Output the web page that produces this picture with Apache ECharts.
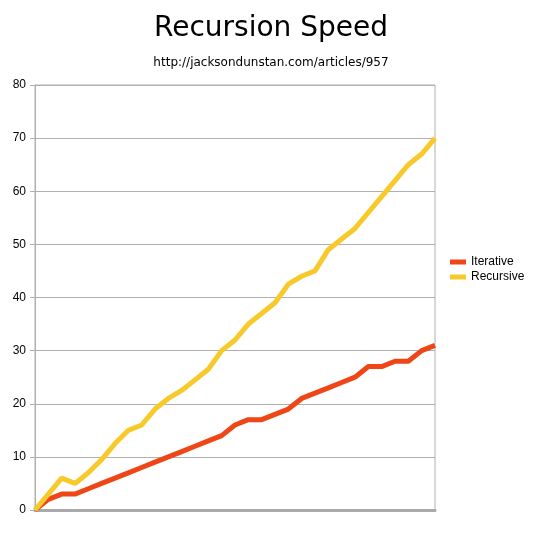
<!DOCTYPE html>
<html>
<head>
<meta charset="utf-8">
<script src="https://cdn.jsdelivr.net/npm/echarts@6/dist/echarts.min.js"></script>
<style>
  html, body { margin: 0; padding: 0; background: #fff; }
  #chart { width: 542px; height: 540px; }
</style>
</head>
<body>
<div id="chart"></div>
<script>
// Run index (x) is unlabeled in the original.
const runs = Array.from({ length: 31 }, (_, i) => String(i));
const iterative = [0, 2, 3, 3, 4, 5, 6, 7, 8, 9, 10, 11, 12, 13, 14, 16, 17, 17, 18, 19,
  21, 22, 23, 24, 25, 27, 27, 28, 28, 30, 31];
const recursive = [0, 3, 6, 5, 7, 9.5, 12.5, 15, 16, 19, 21, 22.5, 24.5, 26.5, 30, 32, 35, 37, 39, 42.5,
  44, 45, 49, 51, 53, 56, 59, 62, 65, 67, 70];

const chart = echarts.init(document.getElementById('chart'), null, { renderer: 'canvas' });
chart.setOption({
  animation: false,
  backgroundColor: '#fff',
  title: {
    text: 'Recursion Speed',
    subtext: 'http://jacksondunstan.com/articles/957',
    left: 'center', top: 10, itemGap: 14,
    textStyle: { fontFamily: 'DejaVu Sans', fontWeight: 'normal', fontSize: 28, color: '#000' },
    subtextStyle: { fontFamily: 'DejaVu Sans', fontSize: 12, color: '#000' },
  },
  legend: {
    orient: 'vertical', left: 445, top: 251,
    itemWidth: 16, itemHeight: 5, itemGap: 3,
    icon: 'rect',
    textStyle: { fontFamily: 'Liberation Sans', fontSize: 12, color: '#000' },
    data: ['Iterative', 'Recursive'],
  },
  grid: { left: 35, right: 107, top: 85, bottom: 30, show: true, borderColor: '#b0b0b0', borderWidth: 1 },
  xAxis: {
    type: 'category', data: runs, boundaryGap: false,
    axisLine: { lineStyle: { color: '#aaa', width: 3 } },
    axisTick: { show: false }, axisLabel: { show: false }, splitLine: { show: false },
  },
  yAxis: {
    type: 'value', min: 0, max: 80, interval: 10,
    axisLine: { show: true, lineStyle: { color: '#b0b0b0' } },
    axisTick: { show: true, length: 5, lineStyle: { color: '#b0b0b0' } },
    axisLabel: { fontFamily: 'Liberation Sans', fontSize: 12, color: '#000', margin: 9 },
    splitLine: { lineStyle: { color: '#b0b0b0' } },
  },
  series: [
    { name: 'Iterative', type: 'line', data: iterative, showSymbol: false,
      color: '#ef4617', lineStyle: { width: 5, color: '#ef4617' } },
    { name: 'Recursive', type: 'line', data: recursive, showSymbol: false,
      color: '#f7c92a', lineStyle: { width: 5, color: '#f7c92a' } },
  ],
});
</script>
</body>
</html>
